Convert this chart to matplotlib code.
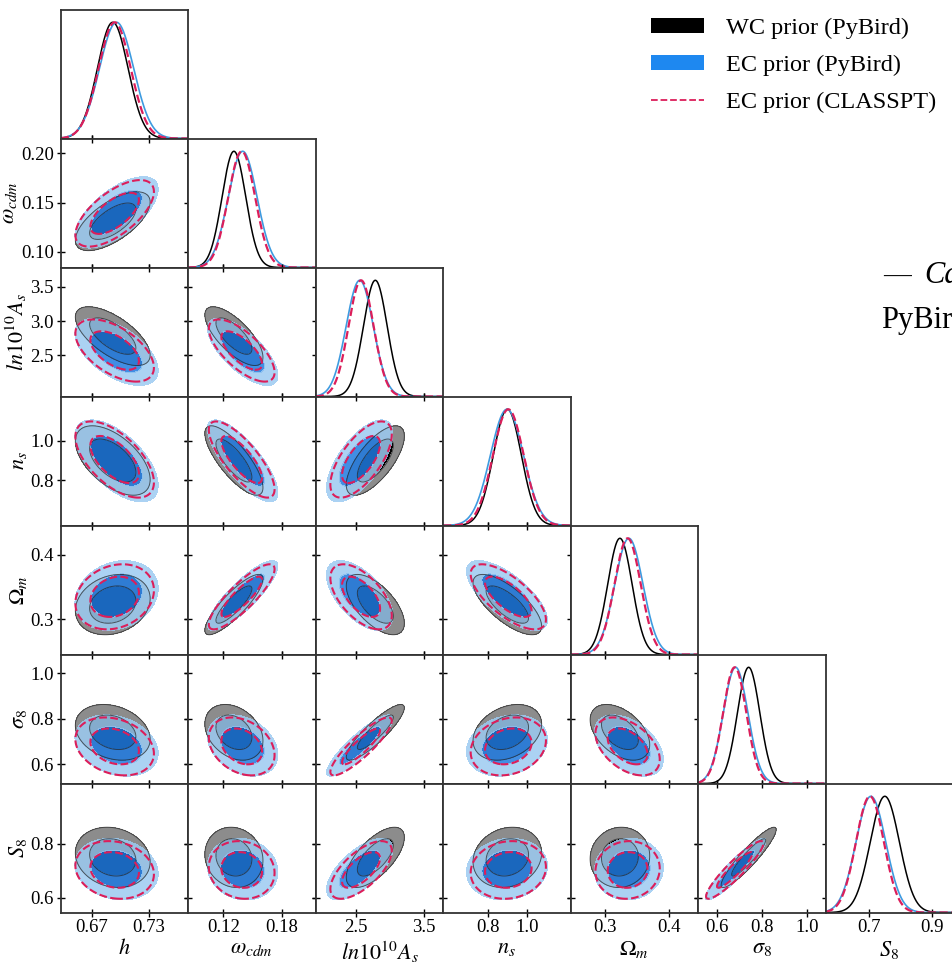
import numpy as np
import matplotlib.pyplot as plt
from matplotlib.patches import Patch
from matplotlib.lines import Line2D

plt.rcParams['font.family'] = ['Liberation Serif', 'DejaVu Serif']
plt.rcParams['mathtext.fontset'] = 'stix'

names = [r'$h$', r'$\omega_{cdm}$', r'$ln10^{10}A_s$', r'$n_s$',
         r'$\Omega_m$', r'$\sigma_8$', r'$S_8$']

# posterior summaries: h, w_cdm, ln10^10 As, ns, Om, sigma8, S8
wc_mean = [0.692, 0.131, 2.78, 0.900, 0.323, 0.740, 0.750]
wc_sig = [0.0160, 0.0122, 0.175, 0.072, 0.019, 0.050, 0.046]
ec_mean = [0.696, 0.140, 2.55, 0.898, 0.337, 0.682, 0.706]
ec_sig = [0.0178, 0.0148, 0.200, 0.085, 0.022, 0.055, 0.047]
cl_mean = [0.694, 0.139, 2.57, 0.905, 0.335, 0.678, 0.703]
cl_sig = [0.0168, 0.0138, 0.185, 0.079, 0.0205, 0.052, 0.044]

# correlations, lower triangle row by row
wc_corr = [[0.65],
           [-0.65, -0.72],
           [-0.55, -0.78, 0.70],
           [0.20, 0.85, -0.62, -0.72],
           [-0.25, -0.30, 0.88, 0.30, -0.45],
           [-0.15, -0.10, 0.66, 0.15, 0.05, 0.92]]
ec_corr = [[0.65],
           [-0.55, -0.70],
           [-0.60, -0.78, 0.66],
           [0.20, 0.85, -0.58, -0.70],
           [-0.25, -0.30, 0.88, 0.20, -0.45],
           [-0.15, -0.10, 0.66, 0.10, 0.05, 0.92]]
cl_corr = [[0.65],
           [-0.55, -0.70],
           [-0.60, -0.78, 0.66],
           [0.20, 0.85, -0.58, -0.70],
           [-0.25, -0.30, 0.88, 0.20, -0.45],
           [-0.15, -0.10, 0.66, 0.10, 0.05, 0.92]]

x_lims = [(0.6375, 0.771), (0.084, 0.215), (1.9, 3.78), (0.57, 1.225),
          (0.246, 0.445), (0.515, 1.082), (0.563, 0.965)]
y_lims = [(0.6375, 0.771), (0.084, 0.215), (1.9, 3.78), (0.57, 1.225),
          (0.246, 0.445), (0.515, 1.082), (0.544, 1.026)]
x_ticks = [['0.67', '0.73'], ['0.12', '0.18'], ['2.5', '3.5'], ['0.8', '1.0'],
           ['0.3', '0.4'], ['0.6', '0.8', '1.0'], ['0.7', '0.9']]
y_ticks = [[], ['0.10', '0.15', '0.20'], ['2.5', '3.0', '3.5'], ['0.8', '1.0'],
           ['0.3', '0.4'], ['0.6', '0.8', '1.0'], ['0.6', '0.8']]

levels = [0, 2.29, 5.99]  # 68% / 95% in 2D

fig = plt.figure(figsize=(9.53, 9.65), dpi=100)
gs = fig.add_gridspec(7, 7, left=60.7 / 953, right=1.0, top=1 - 9.5 / 965,
                      bottom=1 - 912.5 / 965, wspace=0, hspace=0)

n = len(names)


def dist2(X, Y, mean, sig, corr, i, j):
    r = corr[i - 1][j]
    dx = (X - mean[j]) / sig[j]
    dy = (Y - mean[i]) / sig[i]
    return (dx ** 2 - 2 * r * dx * dy + dy ** 2) / (1 - r ** 2)


for i in range(n):
    for j in range(i + 1):
        ax = fig.add_subplot(gs[i, j])
        for s in ax.spines.values():
            s.set_color('#333333')
            s.set_linewidth(1.3)
        xt = [float(t) for t in x_ticks[j]]
        if i == j:
            x = np.linspace(*x_lims[j], 400)
            for mean, sig, col, ls, lw in [(wc_mean, wc_sig, 'k', '-', 1.1),
                                           (ec_mean, ec_sig, '#3d9be0', '-', 1.2),
                                           (cl_mean, cl_sig, '#dc1e5a', '--', 1.6)]:
                ax.plot(x, np.exp(-0.5 * ((x - mean[j]) / sig[j]) ** 2),
                        color=col, ls=ls, lw=lw)
            ax.set_ylim(0, 1.11)
            ax.set_yticks([])
            ax.tick_params(axis='x', direction='inout', length=6, width=1,
                           labelsize=13.5, pad=2)
        else:
            x = np.linspace(*x_lims[j], 300)
            y = np.linspace(*y_lims[i], 300)
            X, Y = np.meshgrid(x, y)
            d_wc = dist2(X, Y, wc_mean, wc_sig, wc_corr, i, j)
            d_ec = dist2(X, Y, ec_mean, ec_sig, ec_corr, i, j)
            d_cl = dist2(X, Y, cl_mean, cl_sig, cl_corr, i, j)
            ax.contourf(X, Y, d_wc, levels=levels, colors=['#000000', '#8c8c8c'])
            ax.contourf(X, Y, d_ec, levels=levels, colors=['#1f7ae0', '#9ccbf2'],
                        alpha=0.85)
            ax.contour(X, Y, d_wc, levels=levels[1:], colors='#222222',
                       linewidths=0.7, alpha=0.7)
            ax.contour(X, Y, d_cl, levels=levels[1:], colors='#dc1e5a',
                       linewidths=1.5, linestyles='--')
            ax.set_ylim(*y_lims[i])
            ax.set_yticks([float(t) for t in y_ticks[i]])
            ax.tick_params(direction='inout', length=6, width=1, top=True,
                           right=True, labelsize=13.5, pad=2)
            if j == 0:
                ax.set_yticklabels(y_ticks[i])
                ax.set_ylabel(names[i], fontsize=16, labelpad=1)
            else:
                ax.set_yticklabels([])
        ax.set_xlim(*x_lims[j])
        ax.set_xticks(xt)
        if i == n - 1:
            ax.set_xticklabels(x_ticks[j])
            ax.set_xlabel(names[j], fontsize=16, labelpad=2)
        else:
            ax.set_xticklabels([])

handles = [Patch(facecolor='#000000'), Patch(facecolor='#1e88f0'),
           Line2D([], [], color='#dc1e5a', ls='--', lw=1.3)]
labels = ['WC prior (PyBird)', 'EC prior (PyBird)', 'EC prior (CLASSPT)']
fig.legend(handles, labels, loc='upper left', bbox_to_anchor=(629 / 953, 1 + 4 / 965),
           frameon=False, fontsize=17.5, handlelength=2.2, handleheight=0.55,
           labelspacing=0.64, handletextpad=0.9)

# running text from the page, cut at the edge
fig.text(883 / 953, 1 - 283 / 965, '—', fontsize=20, va='baseline')
fig.text(924 / 953, 1 - 283 / 965, 'Ca', fontsize=22, style='italic', va='baseline')
fig.text(881 / 953, 1 - 328 / 965, 'PyBir', fontsize=22, va='baseline')

fig.savefig('out.png', dpi=100)
